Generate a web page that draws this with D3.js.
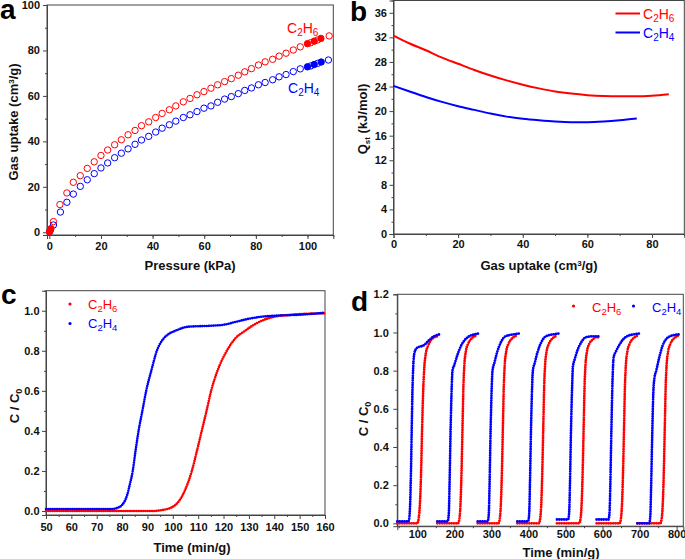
<!DOCTYPE html>
<html>
<head>
<meta charset="utf-8">
<script src="https://cdnjs.cloudflare.com/ajax/libs/d3/7.8.5/d3.min.js"></script>
<style>
  body { margin: 0; background: #fff; }
  svg { font-family: "Liberation Sans", Arial, sans-serif; }
  .axis path, .axis line { stroke: #444; }
  .axis text { font-size: 11px; font-weight: bold; fill: #111; }
  .title { font-size: 13px; font-weight: bold; fill: #111; }
  .letter { font-size: 28px; font-weight: bold; fill: #000; }
  .legend { font-size: 14px; }
</style>
</head>
<body>
<div id="chart"></div>
<script>
// ---- data (a) isotherms, [kPa, cm3/g]
var c2h6Ads = [[1.6,4.7],[4.1,12.2],[6.8,17.3],[9.3,22.0],[12,24.9],[14.7,28.1],[17.4,31],[20,33.8],[22.6,36.2],[25.3,38.5],[27.9,40.7],[30.5,42.9],[33.2,44.8],[35.7,46.9],[38.5,48.6],[41.2,50.5],[43.7,52.3],[46.5,53.9],[49,55.6],[51.9,57.4],[54.5,58.9],[57.2,60.5],[59.9,61.9],[62.6,63.4],[65.2,64.9],[67.9,66.3],[70.5,67.6],[73.2,69.1],[75.7,70.6],[78.3,72],[81,73.6],[83.6,75],[86.5,76.1],[89,77.5],[91.7,78.8],[94.5,80.2],[97.2,81.6],[101.2,83.4],[103.9,84.6],[108.4,86.4]];
var c2h6Des = [[0.1,0.3],[0.3,0.9],[0.6,1.6],[100,83.0],[102.6,84.1],[105.2,85.3]];
var c2h4Ads = [[0.2,0.4],[1.6,3.2],[4.3,8.9],[6.8,13.2],[9.3,16.8],[12,20.2],[14.7,23.1],[17.4,25.8],[20,28.3],[22.6,30.5],[25.3,32.8],[27.9,34.8],[30.5,36.7],[33.2,38.7],[35.7,40.6],[38.5,42.2],[41.2,44.1],[43.7,45.8],[46.5,47.3],[49,48.9],[51.9,50.5],[54.5,51.7],[57.2,53.1],[59.9,54.6],[62.6,55.6],[65.2,57.2],[67.9,58.6],[70.5,59.7],[73.2,61],[75.7,62.4],[78.3,63.5],[81,64.9],[83.6,65.9],[86.5,67.1],[89,68.4],[91.7,69.4],[94.5,70.7],[97.2,71.9],[101.3,73.2],[103.9,74.3],[108.1,75.8]];
var c2h4Des = [[100,72.8],[102.6,73.8],[105.3,74.9]];

// ---- data (b) Qst, [cm3/g, kJ/mol]
var c2h6Qst = [[0,32.3],[5,31.0],[10,29.9],[15,28.7],[20,27.7],[25,26.7],[30,25.8],[35,25.0],[40,24.3],[45,23.7],[50,23.2],[55,22.85],[60,22.6],[65,22.45],[70,22.4],[75,22.4],[80,22.5],[85.2,22.75]];
var c2h4Qst = [[0,24.1],[5,23.2],[10,22.3],[15,21.5],[20,20.8],[25,20.2],[30,19.6],[35,19.1],[40,18.75],[45,18.5],[50,18.3],[55,18.2],[60,18.2],[65,18.3],[70,18.5],[75.3,18.8]];

// ---- data (c) breakthrough, [min/g, C/C0]
var c2h6Break = [[50,0],[92,0],[96,0.005],[99,0.015],[101,0.03],[103,0.06],[105,0.11],[107.5,0.2],[109.5,0.3],[111.4,0.4],[113.3,0.5],[115.1,0.6],[117.6,0.7],[121.3,0.8],[124.5,0.86],[128.5,0.9],[132,0.93],[136,0.955],[140,0.97],[145,0.978],[150,0.983],[160,0.987]];
var c2h4Break = [[50,0.01],[76,0.01],[78,0.015],[80,0.03],[82,0.08],[83,0.13],[84.2,0.2],[85.3,0.3],[86.5,0.4],[88,0.5],[89.5,0.6],[91.5,0.7],[93.7,0.8],[96.3,0.86],[98.5,0.885],[101,0.9],[106,0.92],[115,0.925],[120,0.93],[125,0.945],[130,0.96],[135,0.97],[140,0.975],[150,0.98],[160,0.99]];

// ---- data (d) seven cycles
var c2h6Cycles = [
  [[46,0],[100,0],[104,0.03],[107,0.1],[110,0.25],[113,0.5],[116,0.7],[119,0.82],[123,0.89],[129,0.93],[137,0.96],[146,0.975],[154,0.98]],
  [[154,0],[210,0],[214,0.03],[217,0.12],[219.5,0.28],[222,0.5],[224.5,0.72],[227,0.83],[231,0.9],[237,0.94],[245,0.965],[255,0.98],[262,0.985]],
  [[263,0],[319,0],[323,0.03],[326,0.12],[328.5,0.28],[331,0.5],[333.5,0.72],[336,0.83],[340,0.9],[346,0.94],[354,0.965],[364,0.98],[371,0.985]],
  [[370,0],[428,0],[432,0.03],[435,0.12],[437.5,0.28],[440,0.5],[442.5,0.72],[445,0.83],[449,0.9],[455,0.94],[463,0.965],[473,0.98],[478,0.985]],
  [[477,0],[537,0],[541,0.03],[544,0.12],[546.5,0.28],[549,0.5],[551.5,0.72],[554,0.83],[558,0.9],[564,0.94],[572,0.96],[582,0.975],[590,0.975]],
  [[584,0],[646,0],[650,0.03],[653,0.12],[655.5,0.28],[658,0.5],[660.5,0.72],[663,0.83],[667,0.9],[673,0.94],[681,0.965],[691,0.98],[696,0.985]],
  [[694,0],[756,0],[760,0.03],[763,0.12],[765.5,0.28],[768,0.5],[770.5,0.72],[773,0.83],[777,0.9],[783,0.94],[791,0.965],[801,0.98],[806,0.985]]
];
var c2h4Cycles = [
  [[46,0.01],[76,0.01],[79,0.04],[81,0.12],[83,0.28],[85,0.5],[87,0.7],[89,0.82],[92,0.89],[97,0.915],[105,0.925],[115,0.93],[122,0.94],[132,0.96],[145,0.98],[160,0.99]],
  [[154,0.01],[182,0.01],[185,0.05],[187,0.2],[190,0.5],[193,0.72],[195,0.8],[200,0.83],[208,0.88],[218,0.93],[228,0.96],[240,0.98],[255,0.99],[268,0.995]],
  [[263,0.01],[290,0.01],[293,0.05],[295,0.2],[298,0.5],[301,0.72],[303,0.8],[308,0.84],[316,0.9],[326,0.95],[338,0.98],[360,0.99],[377,0.995]],
  [[370,0.01],[399,0.01],[402,0.05],[404,0.2],[407,0.5],[410,0.72],[412,0.8],[417,0.84],[425,0.9],[435,0.95],[447,0.98],[467,0.99],[484,0.995]],
  [[477,0.02],[507,0.02],[510,0.06],[512,0.2],[515,0.5],[518,0.72],[520,0.82],[525,0.86],[533,0.91],[543,0.95],[555,0.975],[575,0.98],[594,0.98]],
  [[584,0.02],[616,0.02],[619,0.06],[621,0.2],[624,0.5],[627,0.75],[630,0.87],[636,0.9],[644,0.93],[654,0.96],[666,0.98],[684,0.99],[702,0.995]],
  [[694,0],[726,0],[729,0.04],[731,0.18],[734,0.45],[737,0.68],[740,0.76],[745,0.8],[752,0.86],[762,0.93],[774,0.97],[790,0.985],[810,0.99]]
];

var RED = "#ff0000", BLUE = "#0000ff";

var svg = d3.select("#chart").append("svg")
    .attr("width", 685)
    .attr("height", 559);

function range(a, b, s) { return d3.range(a, b + s / 2, s); }

// frame + axes for one panel
function panel(x, y, o) {
  var yb = y.range()[0], xl = x.range()[0];
  svg.append("rect")
      .attr("x", xl).attr("y", y.range()[1])
      .attr("width", x.range()[1] - xl)
      .attr("height", yb - y.range()[1])
      .attr("fill", "none").attr("stroke", "#444");

  svg.append("g").attr("class", "axis")
      .attr("transform", "translate(0," + yb + ")")
      .call(d3.axisBottom(x).tickValues(o.xMinor).tickSize(2).tickFormat(""))
      .select(".domain").remove();
  svg.append("g").attr("class", "axis")
      .attr("transform", "translate(0," + yb + ")")
      .call(d3.axisBottom(x).tickValues(o.xTicks).tickSizeOuter(0).tickSize(4).tickPadding(o.xPad).tickFormat(o.xFmt || d3.format("d")));

  svg.append("g").attr("class", "axis")
      .attr("transform", "translate(" + xl + ",0)")
      .call(d3.axisLeft(y).tickValues(o.yMinor).tickSize(2).tickFormat(""))
      .select(".domain").remove();
  svg.append("g").attr("class", "axis")
      .attr("transform", "translate(" + xl + ",0)")
      .call(d3.axisLeft(y).tickValues(o.yTicks).tickSizeOuter(0).tickSize(4).tickPadding(o.yPad).tickFormat(o.yFmt || d3.format("d")));
}

// text with sub/superscripts: parts = [[str, "sub"|"sup"|undefined], ...]
function rich(sel, parts, small) {
  var shift = 0;
  parts.forEach(function(p) {
    var t = sel.append("tspan").text(p[0]);
    var want = p[1] === "sub" ? 3 : p[1] === "sup" ? -4 : 0;
    if (want !== shift) { t.attr("dy", want - shift); shift = want; }
    if (p[1]) t.style("font-size", small + "px");
  });
  return sel;
}

function label(x, y, cls, parts, small, rotate, anchor) {
  var t = svg.append("text").attr("class", cls)
      .attr("text-anchor", anchor || "middle")
      .attr("transform", "translate(" + x + "," + y + ")" + (rotate ? " rotate(-90)" : ""));
  return rich(t, parts, small);
}

var C2H6 = [["C"], ["2", "sub"], ["H"], ["6", "sub"]];
var C2H4 = [["C"], ["2", "sub"], ["H"], ["4", "sub"]];

// dotted curve drawn through the data with d3's monotone curve
function dotted(data, x, y, color, w) {
  svg.append("path")
      .datum(data)
      .attr("fill", "none")
      .attr("stroke", color)
      .attr("stroke-width", w)
      .attr("stroke-linecap", "round")
      .attr("stroke-dasharray", "0 " + (w * 0.85))
      .attr("d", d3.line().curve(d3.curveMonotoneX)
          .x(function(d) { return x(d[0]); })
          .y(function(d) { return y(d[1]); }));
}

// ===== panel a
var xa = d3.scaleLinear().domain([-0.9, 110]).range([47, 333.3]);
var ya = d3.scaleLinear().domain([-1.2, 100]).range([235, 5]);
panel(xa, ya, { xTicks: range(0, 100, 20), xMinor: range(10, 110, 10), xPad: 3,
                yTicks: range(0, 100, 20), yMinor: range(10, 90, 20), yPad: 3 });

function circles(data, color, filled) {
  svg.append("g").selectAll("circle")
      .data(data)
    .enter().append("circle")
      .attr("cx", function(d) { return xa(d[0]); })
      .attr("cy", function(d) { return ya(d[1]); })
      .attr("r", 3.2)
      .attr("fill", filled ? color : "none")
      .attr("stroke", color)
      .attr("stroke-width", 1);
}
circles(c2h6Ads, RED, false);
circles(c2h4Ads, BLUE, false);
circles(c2h6Des, RED, true);
circles(c2h4Des, BLUE, true);

label(287, 33, "legend", C2H6, 10, false, "start").attr("fill", RED);
label(288, 93, "legend", C2H4, 10, false, "start").attr("fill", BLUE);
label(190, 270, "title", [["Pressure (kPa)"]], 9);
label(18, 122, "title", [["Gas uptake (cm"], ["3", "sup"], ["/g)"]], 8, true);
svg.append("text").attr("class", "letter").attr("x", 0).attr("y", 19).text("a");

// ===== panel b
var xb = d3.scaleLinear().domain([0, 90]).range([393.5, 684.3]);
var yb = d3.scaleLinear().domain([0, 38]).range([234, 0.5]);
panel(xb, yb, { xTicks: range(0, 80, 20), xMinor: range(10, 90, 10), xPad: 2,
                yTicks: range(0, 36, 4), yMinor: range(2, 38, 4), yPad: 2.5 });

var lineB = d3.line().curve(d3.curveMonotoneX)
    .x(function(d) { return xb(d[0]); })
    .y(function(d) { return yb(d[1]); });
svg.append("path").datum(c2h6Qst).attr("fill", "none").attr("stroke", RED).attr("stroke-width", 2).attr("d", lineB);
svg.append("path").datum(c2h4Qst).attr("fill", "none").attr("stroke", BLUE).attr("stroke-width", 2).attr("d", lineB);

svg.append("line").attr("x1", 615.5).attr("x2", 640).attr("y1", 13.5).attr("y2", 13.5).attr("stroke", RED).attr("stroke-width", 2);
svg.append("line").attr("x1", 615.5).attr("x2", 640).attr("y1", 32.5).attr("y2", 32.5).attr("stroke", BLUE).attr("stroke-width", 2);
label(643, 19, "legend", C2H6, 10, false, "start").attr("fill", RED);
label(643, 38, "legend", C2H4, 10, false, "start").attr("fill", BLUE);
label(539, 270, "title", [["Gas uptake (cm"], ["3", "sup"], ["/g)"]], 8);
label(367, 119, "title", [["Q"], ["st", "sub"], [" (kJ/mol)"]], 8, true);
svg.append("text").attr("class", "letter").attr("x", 350).attr("y", 21).text("b");

// ===== panel c
var xc = d3.scaleLinear().domain([50, 160]).range([46, 325]);
var yc = d3.scaleLinear().domain([-0.02, 1.1]).range([515, 290.7]);
panel(xc, yc, { xTicks: range(50, 160, 10), xMinor: range(55, 155, 10), xPad: 4,
                yTicks: range(0, 1, 0.2), yMinor: range(0.1, 1.1, 0.2), yPad: 2.5, yFmt: d3.format(".1f") });

dotted(c2h6Break, xc, yc, RED, 2.6);
dotted(c2h4Break, xc, yc, BLUE, 2.6);

svg.append("circle").attr("cx", 70).attr("cy", 304).attr("r", 1.6).attr("fill", RED);
svg.append("circle").attr("cx", 70).attr("cy", 323.5).attr("r", 1.6).attr("fill", BLUE);
label(88, 308.5, "legend", C2H6, 9.5, false, "start").attr("fill", RED).style("font-size", "13px");
label(88, 328, "legend", C2H4, 9.5, false, "start").attr("fill", BLUE).style("font-size", "13px");
label(192, 552, "title", [["Time (min/g)"]], 9);
label(19, 406, "title", [["C / C"], ["0", "sub"]], 9, true);
svg.append("text").attr("class", "letter").attr("x", 1).attr("y", 304).text("c");

// ===== panel d
var xd = d3.scaleLinear().domain([46, 818]).range([397.3, 683.3]);
var yd = d3.scaleLinear().domain([-0.015, 1.2]).range([526.2, 294.3]);
panel(xd, yd, { xTicks: range(100, 800, 100), xMinor: range(50, 800, 100), xPad: 0,
                yTicks: range(0, 1.2, 0.2), yMinor: range(0.1, 1.1, 0.2), yPad: 4.5, yFmt: d3.format(".1f") });

c2h6Cycles.forEach(function(c) { dotted(c, xd, yd, RED, 2.8); });
c2h4Cycles.forEach(function(c) { dotted(c, xd, yd, BLUE, 2.8); });

svg.append("circle").attr("cx", 573.5).attr("cy", 306).attr("r", 1.6).attr("fill", RED);
svg.append("circle").attr("cx", 633.5).attr("cy", 306).attr("r", 1.6).attr("fill", BLUE);
label(592, 311.5, "legend", C2H6, 9.5, false, "start").attr("fill", RED).style("font-size", "13px");
label(652, 311.5, "legend", C2H4, 9.5, false, "start").attr("fill", BLUE).style("font-size", "13px");
label(561, 557, "title", [["Time (min/g)"]], 9);
label(368, 419, "title", [["C / C"], ["0", "sub"]], 9, true);
svg.append("text").attr("class", "letter").attr("x", 351).attr("y", 311).text("d");
</script>
</body>
</html>
